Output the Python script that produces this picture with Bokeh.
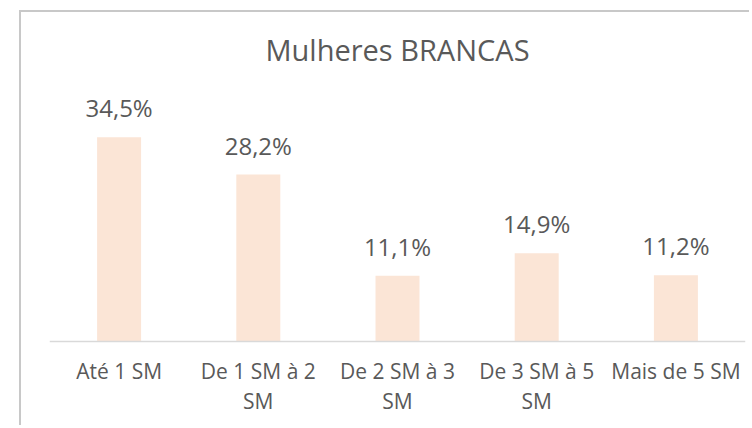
from bokeh.plotting import figure
from bokeh.models import ColumnDataSource, LabelSet, Range1d, FactorRange, Span
from bokeh.core.properties import value
from bokeh.embed import file_html
from bokeh.resources import INLINE

# ---- data ----
categories = ["Até 1 SM", "De 1 SM à 2 SM", "De 2 SM à 3 SM", "De 3 SM à 5 SM", "Mais de 5 SM"]
tick_labels = ["Até 1 SM", "De 1 SM à 2\nSM", "De 2 SM à 3\nSM", "De 3 SM à 5\nSM", "Mais de 5 SM"]
values = [34.5, 28.2, 11.1, 14.9, 11.2]
value_labels = [f"{v:.1f}%".replace(".", ",") for v in values]
title_text = "Mulheres BRANCAS"

FONT = "Open Sans"
TXT = "#595959"

src = ColumnDataSource(dict(cat=categories, val=values, lab=value_labels,
                            tick=tick_labels, zero=[0] * len(values)))

p = figure(
    x_range=FactorRange(*categories),
    y_range=Range1d(-14.53, 45.44),
    width=730, height=415,
    output_backend="svg", toolbar_location=None,
    min_border_left=28, min_border_right=6,
    min_border_top=60, min_border_bottom=0,
)
p.margin = (10, 0, 0, 19)
p.styles = {"border-left": "2px solid #c8c8c8", "border-top": "2px solid #c8c8c8"}

p.vbar(x="cat", top="val", width=0.316, source=src, fill_color="#FBE5D6", line_color=None)

# baseline (category axis line)
p.add_layout(Span(location=0, dimension="width", line_color="#d9d9d9", line_width=1.5))

# value labels
p.add_layout(LabelSet(x="cat", y="val", text="lab", source=src, text_align="center",
                      text_baseline="alphabetic", y_offset=20, text_font=value(FONT),
                      text_font_size="24px", text_color=TXT))

# category labels (wrapped like the original axis)
p.text(x="cat", y="zero", text="tick", source=src, text_align="center",
       text_baseline="top", y_offset=16, text_font=value(FONT),
       text_font_size="21px", text_color=TXT, text_line_height=1.05)

p.title.text = title_text
p.title.align = "center"
p.title.text_font = FONT
p.title.text_font_size = "29px"
p.title.text_font_style = "normal"
p.title.text_color = TXT
p.title.standoff = 8

p.xaxis.visible = False
p.yaxis.visible = False
p.xgrid.grid_line_color = None
p.ygrid.grid_line_color = None
p.outline_line_color = None

open("out.html", "w").write(file_html(p, INLINE))
